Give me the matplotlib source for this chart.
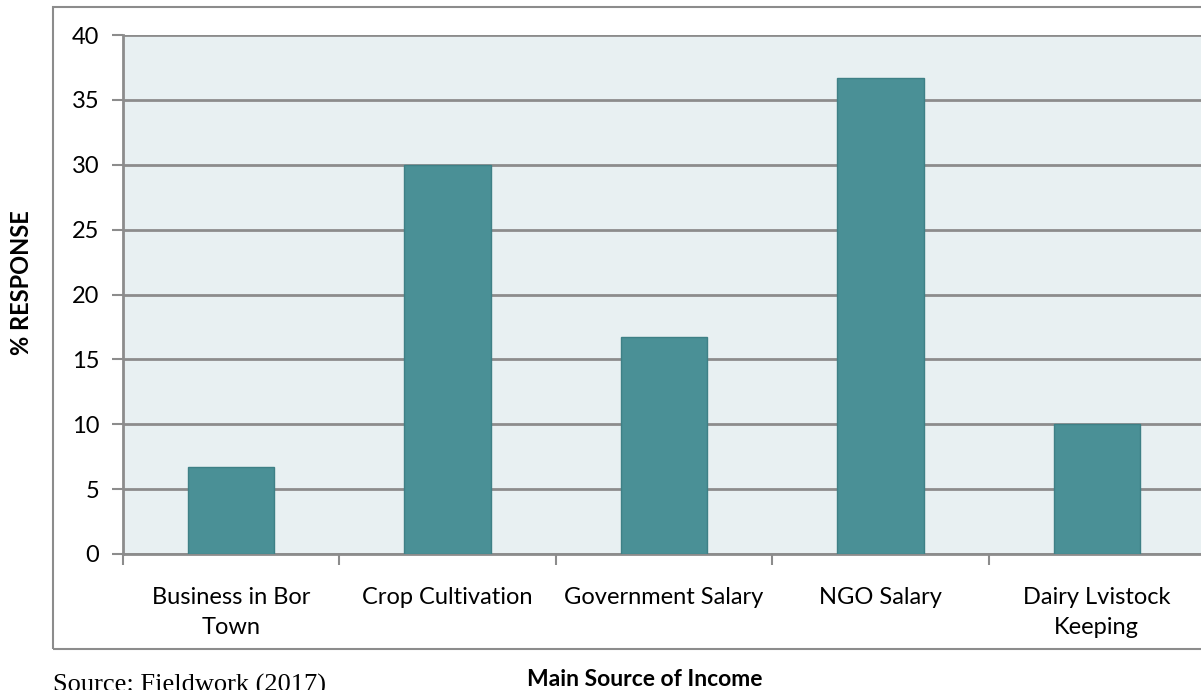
import matplotlib.pyplot as plt
import matplotlib.patches as mpatches
import numpy as np

categories = ["Business in Bor\nTown", "Crop Cultivation", "Government Salary",
              "NGO Salary", "Dairy Lvistock\nKeeping"]
values = [6.7, 30.0, 16.7, 36.7, 10.0]
yticks = [0, 5, 10, 15, 20, 25, 30, 35, 40]

W, H = 1201, 690
fig = plt.figure(figsize=(W / 100, H / 100), dpi=100)
plt.rcParams['font.family'] = ['Lato', 'DejaVu Sans']

# outer chart frame (right edge runs off the picture)
frame = mpatches.Rectangle((53 / W, 1 - 649 / H), 1.2, (649 - 7) / H,
                           transform=fig.transFigure, fill=False,
                           edgecolor='#8c8c8c', linewidth=1.5)
fig.patches.append(frame)

ax = fig.add_axes([123 / W, 1 - 554 / H, (1205 - 123) / W, (554 - 35) / H])
ax.set_facecolor('#e8f0f2')

x = np.arange(len(categories))
ax.bar(x, values, width=0.4, color='#4a9096', edgecolor='#3e8086',
       linewidth=1, zorder=3)

ax.set_xlim(-0.5, len(categories) - 0.5)
ax.set_ylim(0, 40)
ax.set_yticks(yticks)
ax.set_yticklabels([str(v) for v in yticks], fontsize=17)
ax.yaxis.grid(True, color='#8c8c8c', linewidth=2, zorder=1)
ax.set_axisbelow(True)

ax.set_xticks(x)
ax.set_xticklabels(categories, fontsize=17, linespacing=1.5)
ax.tick_params(axis='x', length=0, pad=24)
ax.set_xticks(np.arange(-0.5, len(categories)), minor=True)
ax.tick_params(axis='x', which='minor', length=8, color='#8c8c8c', width=1.5)
ax.tick_params(axis='y', length=8, color='#8c8c8c', width=1.5, pad=9)

for s in ['top', 'right']:
    ax.spines[s].set_visible(False)
for s in ['left', 'bottom']:
    ax.spines[s].set_color('#8c8c8c')
    ax.spines[s].set_linewidth(2)

fig.text(22 / W, 1 - 283 / H, "% RESPONSE", rotation=90, fontsize=17,
         fontweight='bold', ha='center', va='center')
fig.text(645 / W, 1 - 679 / H, "Main Source of Income", fontsize=16.5,
         fontweight='bold', ha='center', va='center')
fig.text(53 / W, 1 - 685 / H, "Source: Fieldwork (2017)", fontsize=19,
         family='Liberation Serif', ha='left', va='center')

fig.savefig("out.png", dpi=100)
